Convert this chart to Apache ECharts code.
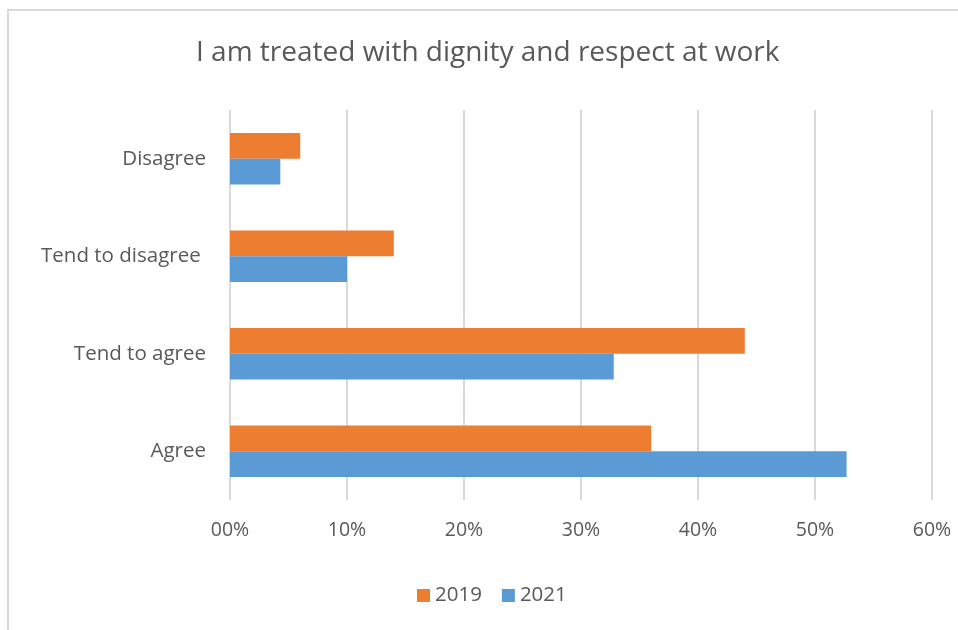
<!DOCTYPE html>
<html>
<head>
<meta charset="utf-8">
<script src="https://cdn.jsdelivr.net/npm/echarts@6/dist/echarts.min.js"></script>
<style>
  html, body { margin: 0; padding: 0; background: #fff; }
  #frame { position: absolute; left: 7px; top: 9px; width: 951px; height: 621px;
           border-left: 2px solid #d9d9d9; border-top: 2px solid #d9d9d9; box-sizing: border-box; }
  #chart { position: absolute; left: 0; top: 0; width: 958px; height: 630px; }
</style>
</head>
<body>
<div id="frame"></div>
<div id="chart"></div>
<script>
// Survey responses, bottom-to-top order on the category axis
const categories = ['Agree', 'Tend to agree', 'Tend to disagree ', 'Disagree'];
const values2019 = [36, 44, 14, 6];
const values2021 = [52.7, 32.8, 10, 4.3];
const seriesNames = ['2019', '2021'];
const titleText = 'I am treated with dignity and respect at work';

const textColor = '#595959';
const fontFamily = '"Open Sans", "Noto Sans", sans-serif';

const chart = echarts.init(document.getElementById('chart'), null, { renderer: 'canvas' });
chart.setOption({
  animation: false,
  title: {
    text: titleText,
    left: 191,
    top: 34,
    textStyle: { color: textColor, fontFamily, fontSize: 28, fontWeight: 'normal' }
  },
  legend: {
    data: seriesNames,
    bottom: 19,
    left: 412,
    itemWidth: 13,
    itemHeight: 13,
    itemGap: 20,
    icon: 'rect',
    textStyle: { color: textColor, fontFamily, fontSize: 20.5 }
  },
  grid: { left: 230, right: 26, top: 110, bottom: 130, containLabel: false },
  xAxis: {
    type: 'value',
    min: 0,
    max: 60,
    interval: 10,
    axisLine: { show: false },
    axisTick: { show: false },
    splitLine: { show: true, lineStyle: { color: '#d9d9d9', width: 2 } },
    axisLabel: {
      color: textColor, fontFamily, fontSize: 19.5, margin: 20,
      formatter: v => (v === 0 ? '00' : String(v)) + '%'
    }
  },
  yAxis: {
    type: 'category',
    data: categories,
    axisLine: { show: false },
    axisTick: { show: false },
    axisLabel: { color: textColor, fontFamily, fontSize: 20.5, margin: 24 }
  },
  series: [
    {
      name: seriesNames[0],
      type: 'bar',
      data: values2019,
      itemStyle: { color: '#ed7d31' },
      barGap: '0%',
      barCategoryGap: '47%'
    },
    {
      name: seriesNames[1],
      type: 'bar',
      data: values2021,
      itemStyle: { color: '#5b9bd5' },
      barGap: '0%',
      barCategoryGap: '47%'
    }
  ]
});
</script>
</body>
</html>
